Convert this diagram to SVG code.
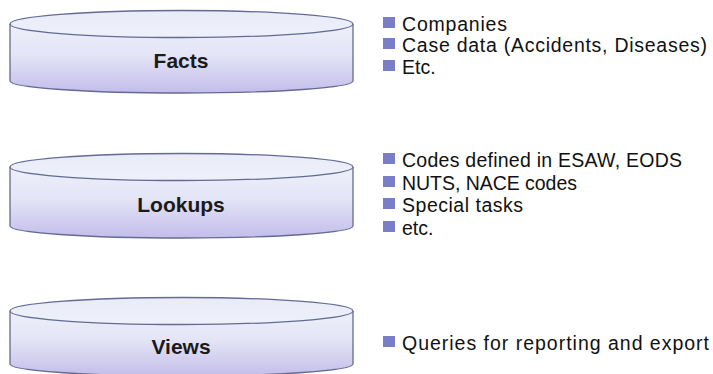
<svg xmlns="http://www.w3.org/2000/svg" width="713" height="374" viewBox="0 0 713 374">
<defs>
<linearGradient id="body" x1="0" y1="0" x2="0" y2="1">
<stop offset="0" stop-color="#eef0fa"/>
<stop offset="0.45" stop-color="#e3e4f5"/>
<stop offset="1" stop-color="#c3bdea"/>
</linearGradient>
<linearGradient id="lid" x1="0" y1="0" x2="0" y2="1">
<stop offset="0" stop-color="#e9ecf8"/>
<stop offset="1" stop-color="#eef0fa"/>
</linearGradient>
</defs>
<style>
.cyl{fill:url(#body);stroke:#656a95;stroke-width:1.3}
.lid{fill:url(#lid);stroke:#656a95;stroke-width:1.3}
.lbl{font-family:"Liberation Sans",Arial,sans-serif;font-weight:bold;font-size:21px;fill:#1a1a1a;text-anchor:middle}
.itm{font-family:"Liberation Sans",Arial,sans-serif;font-size:19.5px;fill:#111}
.bul{fill:#7a7ec6}
</style>
<rect width="713" height="374" fill="#ffffff"/>
<g id="facts">
<path class="cyl" d="M10,24 L10,81 A171.5,12 0 0 0 353,81 L353,24"/>
<ellipse class="lid" cx="181.5" cy="24" rx="171.5" ry="13.5"/>
<text class="lbl" x="181" y="68">Facts</text>
</g>
<g id="lookups">
<path class="cyl" d="M10,167 L10,226 A171.5,12 0 0 0 353,226 L353,167"/>
<ellipse class="lid" cx="181.5" cy="167" rx="171.5" ry="13.5"/>
<text class="lbl" x="181" y="212">Lookups</text>
</g>
<g id="views">
<path class="cyl" d="M10,311 L10,364 A171.5,12 0 0 0 353,364 L353,311"/>
<ellipse class="lid" cx="181.5" cy="311" rx="171.5" ry="13.5"/>
<text class="lbl" x="181" y="354">Views</text>
</g>
<g id="facts-list">
<rect class="bul" x="383" y="17" width="12" height="11"/>
<text class="itm" x="402" y="31" textLength="105">Companies</text>
<rect class="bul" x="383" y="38" width="12" height="11"/>
<text class="itm" x="402" y="52" textLength="305">Case data (Accidents, Diseases)</text>
<rect class="bul" x="383" y="60" width="12" height="11"/>
<text class="itm" x="402" y="74">Etc.</text>
</g>
<g id="lookups-list">
<rect class="bul" x="383" y="153" width="12" height="11"/>
<text class="itm" x="402" y="167" textLength="280">Codes defined in ESAW, EODS</text>
<rect class="bul" x="383" y="176" width="12" height="11"/>
<text class="itm" x="402" y="190" textLength="175">NUTS, NACE codes</text>
<rect class="bul" x="383" y="198" width="12" height="11"/>
<text class="itm" x="402" y="212" textLength="121">Special tasks</text>
<rect class="bul" x="383" y="221" width="12" height="11"/>
<text class="itm" x="402" y="235">etc.</text>
</g>
<g id="views-list">
<rect class="bul" x="383" y="336" width="12" height="11"/>
<text class="itm" x="402" y="350" textLength="307">Queries for reporting and export</text>
</g>
<g id="connectors"></g>
</svg>
